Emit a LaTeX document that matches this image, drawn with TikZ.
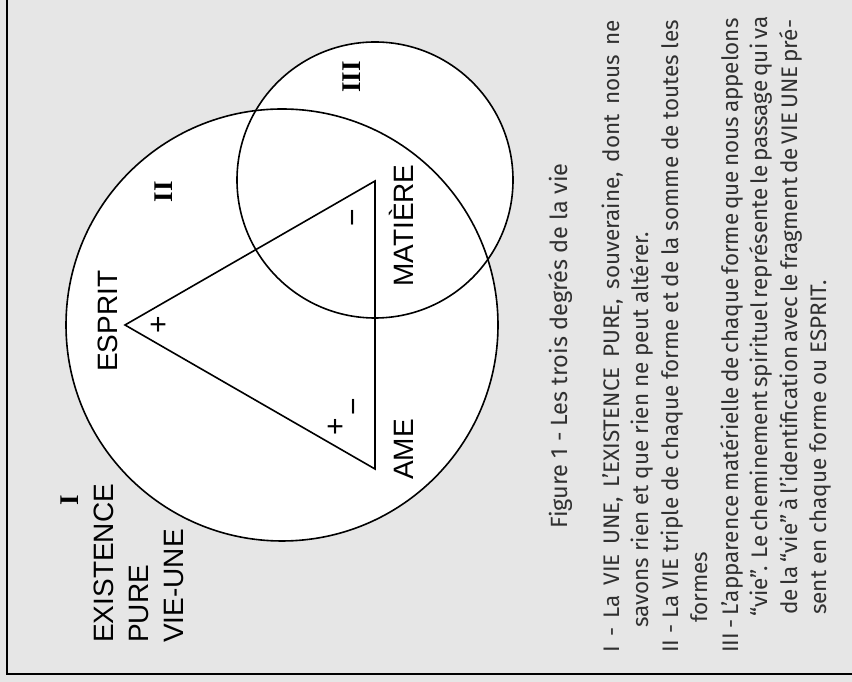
\documentclass[tikz,border=0pt]{standalone}
\usepackage{fontspec}
\setmainfont{Liberation Sans}
\newfontfamily\txtfont{Fira Sans}
\newfontfamily\romfont{Liberation Serif}
\definecolor{bggray}{HTML}{E6E6E6}
\definecolor{txtgray}{HTML}{303030}
\begin{document}
\begin{tikzpicture}[x=1pt,y=1pt,
  outline/.style={line width=1.6pt, draw=black},
  lbl/.style={rotate=90, anchor=base west, inner sep=0pt, font=\fontsize{28}{30}\selectfont},
  romnum/.style={rotate=90, inner sep=0pt, font=\romfont\bfseries\fontsize{27}{28}\selectfont},
  sgn/.style={rotate=90, inner sep=0pt, font=\fontsize{30}{32}\selectfont},
  txt/.style={rotate=90, anchor=base west, inner sep=0pt, text=txtgray, font=\txtfont\fontsize{22.5}{25}\selectfont},
  captxt/.style={rotate=90, anchor=base, inner sep=0pt, text=txtgray, font=\txtfont\fontsize{23.5}{25}\selectfont}]
\useasboundingbox (0,0) rectangle (852,682);
\fill[bggray] (0,0) rectangle (852,682);
% frame (left and bottom)
\draw[line width=2.5pt] (7,682) -- (7,8) -- (852,8);
% circles
\coordinate (bigc) at (282,357);
\coordinate (smallc) at (375,502);
\fill[white] (bigc) circle[radius=216];
\fill[white] (smallc) circle[radius=138];
\draw[outline] (bigc) circle[radius=216];
\draw[outline] (smallc) circle[radius=138];
% triangle
\coordinate (esp) at (125,357);
\coordinate (mat) at (375,501);
\coordinate (ame) at (375,213);
\draw[outline, line join=miter] (esp) -- (mat) -- (ame) -- cycle;
% labels
\node[lbl] (lesprit) at (117,310) {ESPRIT};
\node[lbl] (lexist) at (113,39) {EXISTENCE};
\node[lbl] (lpure) at (148,39) {PURE};
\node[lbl] (lvie) at (183,39) {VIE-UNE};
\node[lbl] (lame) at (413,202) {AME};
\node[lbl] (lmat) at (413,395) {MATIÈRE};
% roman numerals
\node[romnum] (rI) at (70,182) {I};
\node[romnum] (rII) at (164,490) {II};
\node[romnum] (rIII) at (352,605) {III};
% signs
\node[sgn] (p1) at (160,357) {+};
\node[sgn] (p2) at (337,255) {+};
\node[sgn] (m1) at (357,464) {−};
\node[sgn] (m2) at (358,275) {−};
% caption and text
\node[captxt] (caption) at (567,336) {Figure 1 - Les trois degrés de la vie};
\node[txt] (t1) at (619,29) {\makebox[633pt][s]{I - La VIE UNE, L’EXISTENCE PURE, souveraine, dont nous ne}};
\node[txt] (t2) at (648,54) {savons rien et que rien ne peut altérer.};
\node[txt] (t3) at (678,29) {\makebox[633pt][s]{II - La VIE triple de chaque forme et de la somme de toutes les}};
\node[txt] (t4) at (707,59) {formes};
\node[txt] (t5) at (738,29) {\makebox[633pt][s]{III - L’apparence matérielle de chaque forme que nous appelons}};
\node[txt] (t6) at (767,65) {\makebox[597pt][s]{“vie”. Le cheminement spirituel représente le passage qui va}};
\node[txt] (t7) at (797,67) {\makebox[595pt][s]{de la “vie” à l’identification avec le fragment de VIE UNE pré-}};
\node[txt] (t8) at (826,67) {sent en chaque forme ou ESPRIT.};
\end{tikzpicture}
\end{document}
